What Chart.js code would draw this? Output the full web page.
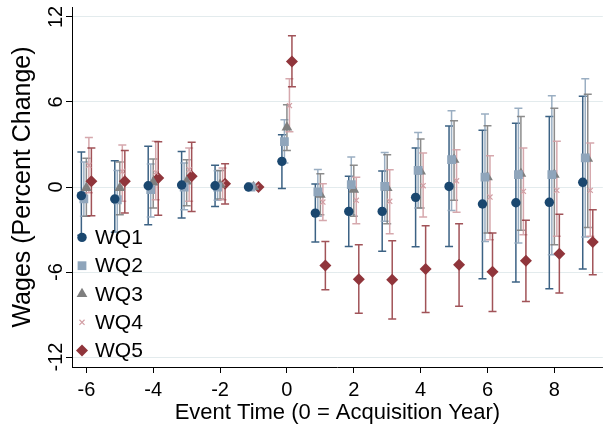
<!DOCTYPE html>
<html>
<head>
<meta charset="utf-8">
<script src="https://cdn.jsdelivr.net/npm/chart.js@4.4.0/dist/chart.umd.min.js"></script>
<style>
  html, body { margin: 0; padding: 0; background: #fff; }
  #wrap { width: 609px; height: 430px; }
</style>
</head>
<body>
<div id="wrap"><canvas id="c" width="609" height="430"></canvas></div>
<script>
// ---- data ----
const eventTime = [-6, -5, -4, -3, -2, -1, 0, 1, 2, 3, 4, 5, 6, 7, 8, 9];
const xTicks = [-6, -4, -2, 0, 2, 4, 6, 8];
const yTicks = [-12, -6, 0, 6, 12];
const seriesNames = ['WQ1', 'WQ2', 'WQ3', 'WQ4', 'WQ5'];

const wq1Est = [-0.61, -0.85, 0.09, 0.14, 0.09, 0, 1.81, -1.84, -1.72, -1.72, -0.73, 0.04, -1.2, -1.11, -1.08, 0.33];
const wq1Lo  = [-3.4, -3.2, -2.66, -2.19, -1.37, null, -0.1, -3.88, -4.19, -4.54, -4.21, -4.19, -6.47, -6.71, -7.18, -5.79];
const wq1Hi  = [2.47, 1.86, 2.87, 2.51, 1.53, null, 3.69, 0.21, 0.75, 1.13, 2.75, 4.3, 4.0, 4.49, 4.98, 6.4];

const wq2Est = [-0.83, -0.9, -0.19, 0.0, 0.0, 0, 3.2, -0.35, 0.16, 0.05, 1.17, 1.93, 0.7, 0.87, 0.87, 2.05];
const wq2Lo  = [-2.07, -3.2, -2.12, -1.6, -0.94, null, 1.7, -2.07, -1.95, -2.42, -1.48, -1.65, -3.84, -3.95, -4.78, -3.53];
const wq2Hi  = [1.76, 1.17, 1.62, 1.69, 1.15, null, 4.75, 1.24, 2.12, 2.44, 3.85, 5.38, 5.15, 5.55, 6.44, 7.64];

const wq3Est = [-0.07, -0.07, 0.33, 0.4, 0.16, 0, 4.2, -0.54, -0.19, -0.07, 1.1, 1.93, 0.7, 0.94, 0.87, 2.0];
const wq3Lo  = [-2.07, -1.95, -1.48, -1.32, -0.85, null, 2.58, -1.95, -2.07, -2.59, -1.48, -0.94, -3.25, -3.06, -4.07, -2.85];
const wq3Hi  = [2.02, 1.76, 1.97, 1.93, 1.17, null, 5.8, 0.94, 1.53, 2.28, 3.39, 4.68, 4.33, 4.98, 5.55, 6.54];

const wq4Est = [1.53, 1.1, 1.03, 1.22, 0.28, 0, 5.74, -1.06, -0.94, -1.01, 0.09, 0.44, -0.71, -0.31, -0.24, -0.24];
const wq4Lo  = [-0.4, -1.0, -0.9, -1.01, -0.9, null, 3.9, -2.36, -2.59, -3.3, -2.12, -1.79, -3.72, -3.37, -3.48, -3.48];
const wq4Hi  = [3.5, 2.96, 3.22, 2.75, 1.34, null, 7.64, 0.23, 0.68, 1.22, 2.4, 2.63, 2.21, 2.75, 3.22, 3.1];

const wq5Est = [0.4, 0.4, 0.63, 0.75, 0.23, 0, 8.86, -5.53, -6.5, -6.54, -5.79, -5.48, -5.98, -5.2, -4.71, -3.88];
const wq5Lo  = [-2.03, -1.84, -2.0, -1.72, -1.2, null, 7.07, -7.25, -8.9, -9.32, -8.85, -8.42, -8.78, -8.07, -7.48, -6.19];
const wq5Hi  = [2.75, 2.58, 3.2, 3.15, 1.64, null, 10.67, -3.84, -4.07, -3.79, -2.73, -2.59, -3.25, -2.35, -1.93, -1.6];

// ---- styles ----
const FONT = '"Liberation Sans", Arial, sans-serif';
const offsets = [-0.15, -0.075, 0, 0.075, 0.15];
const styles = [
  { color: '#1a476f', ci: 'rgba(26,71,111,0.85)',  style: 'circle',   radius: 4.7, bw: 0 },
  { color: '#8fa5bb', ci: 'rgba(143,165,187,0.9)', style: 'rect',     radius: 6.2, bw: 0 },
  { color: '#7f7f7f', ci: 'rgba(127,127,127,0.9)', style: 'triangle', radius: 6.2, bw: 0 },
  { color: '#d29ea4', ci: 'rgba(210,158,164,0.9)', style: 'crossRot', radius: 3.6, bw: 1.2 },
  { color: '#90353b', ci: 'rgba(144,53,59,0.85)',  style: 'rectRot',  radius: 6,   bw: 0 }
];
const ests = [wq1Est, wq2Est, wq3Est, wq4Est, wq5Est];
const los  = [wq1Lo, wq2Lo, wq3Lo, wq4Lo, wq5Lo];
const his  = [wq1Hi, wq2Hi, wq3Hi, wq4Hi, wq5Hi];

const datasets = seriesNames.map((name, i) => ({
  label: name,
  data: eventTime.map((t, j) => ({ x: t + offsets[i], y: ests[i][j] })),
  pointStyle: styles[i].style,
  pointRadius: styles[i].radius,
  backgroundColor: styles[i].color,
  borderColor: styles[i].color,
  pointBorderWidth: styles[i].bw,
  showLine: false
}));

const errorBars = {
  id: 'errorBars',
  beforeDatasetsDraw(chart) {
    const { ctx, scales: { x, y } } = chart;
    ctx.save();
    ctx.lineWidth = 1.5;
    seriesNames.forEach((_, i) => {
      ctx.strokeStyle = styles[i].ci;
      eventTime.forEach((t, j) => {
        if (los[i][j] == null) return;
        const px = x.getPixelForValue(t + offsets[i]);
        const p1 = y.getPixelForValue(los[i][j]);
        const p2 = y.getPixelForValue(his[i][j]);
        ctx.beginPath();
        ctx.moveTo(px, p1); ctx.lineTo(px, p2);
        ctx.moveTo(px - 4, p1); ctx.lineTo(px + 4, p1);
        ctx.moveTo(px - 4, p2); ctx.lineTo(px + 4, p2);
        ctx.stroke();
      });
    });
    ctx.restore();
  }
};

function drawMarker(ctx, st, x, y) {
  ctx.save();
  ctx.fillStyle = st.color;
  ctx.strokeStyle = st.color;
  const r = st.radius;
  ctx.beginPath();
  if (st.style === 'circle') {
    ctx.arc(x, y, r, 0, Math.PI * 2); ctx.fill();
  } else if (st.style === 'rect') {
    const s = r * Math.SQRT1_2; ctx.rect(x - s, y - s, 2 * s, 2 * s); ctx.fill();
  } else if (st.style === 'triangle') {
    ctx.moveTo(x, y - r);
    ctx.lineTo(x + r * Math.sin(2 * Math.PI / 3), y - r * Math.cos(2 * Math.PI / 3));
    ctx.lineTo(x + r * Math.sin(4 * Math.PI / 3), y - r * Math.cos(4 * Math.PI / 3));
    ctx.closePath(); ctx.fill();
  } else if (st.style === 'crossRot') {
    const s = r * Math.SQRT1_2;
    ctx.lineWidth = st.bw;
    ctx.moveTo(x - s, y - s); ctx.lineTo(x + s, y + s);
    ctx.moveTo(x - s, y + s); ctx.lineTo(x + s, y - s); ctx.stroke();
  } else {
    ctx.moveTo(x, y - r); ctx.lineTo(x + r, y); ctx.lineTo(x, y + r); ctx.lineTo(x - r, y);
    ctx.closePath(); ctx.fill();
  }
  ctx.restore();
}

const insideLegend = {
  id: 'insideLegend',
  afterDraw(chart) {
    const { ctx, chartArea } = chart;
    const mx = chartArea.left + 10;
    const y0 = chartArea.bottom - 129.6;
    const step = 28.3;
    ctx.save();
    ctx.font = '21px ' + FONT;
    ctx.fillStyle = '#000';
    ctx.textBaseline = 'middle';
    ctx.textAlign = 'left';
    seriesNames.forEach((name, i) => {
      const yy = y0 + i * step;
      drawMarker(ctx, styles[i], mx, yy);
      ctx.fillText(name, mx + 13, yy + 1);
    });
    ctx.restore();
  }
};

new Chart(document.getElementById('c'), {
  type: 'scatter',
  data: { datasets },
  plugins: [errorBars, insideLegend],
  options: {
    responsive: false,
    animation: false,
    layout: { padding: { top: 7, right: 4, left: 0, bottom: 0 } },
    plugins: { legend: { display: false }, tooltip: { enabled: false } },
    scales: {
      x: {
        type: 'linear',
        min: -6.43, max: 9.45,
        afterBuildTicks: (axis) => { axis.ticks = xTicks.map(v => ({ value: v })); },
        afterFit: (axis) => { axis.height = 63; },
        grid: { drawOnChartArea: false, drawTicks: true, tickLength: 6, color: '#000', tickColor: '#000' },
        border: { display: true, color: '#000', width: 1 },
        ticks: { color: '#000', font: { family: FONT, size: 20 }, padding: 5, maxRotation: 0, minRotation: 0 },
        title: { display: true, text: 'Event Time (0 = Acquisition Year)', color: '#000',
                 font: { family: FONT, size: 22 }, padding: { top: 0, bottom: 4 } }
      },
      y: {
        type: 'linear',
        min: -12.7, max: 12.7,
        afterBuildTicks: (axis) => { axis.ticks = yTicks.map(v => ({ value: v })); },
        afterFit: (axis) => { axis.width = 72; },
        grid: { color: '#e3ebed', tickColor: '#000', tickLength: 6, lineWidth: 1 },
        border: { display: true, color: '#000', width: 1 },
        ticks: { color: '#000', font: { family: FONT, size: 20 }, padding: -5,
                 minRotation: 90, maxRotation: 90, crossAlign: 'center' },
        title: { display: true, text: 'Wages (Percent Change)', color: '#000',
                 font: { family: FONT, size: 25 }, padding: { top: 8, bottom: 0 } }
      }
    }
  }
});
</script>
</body>
</html>
